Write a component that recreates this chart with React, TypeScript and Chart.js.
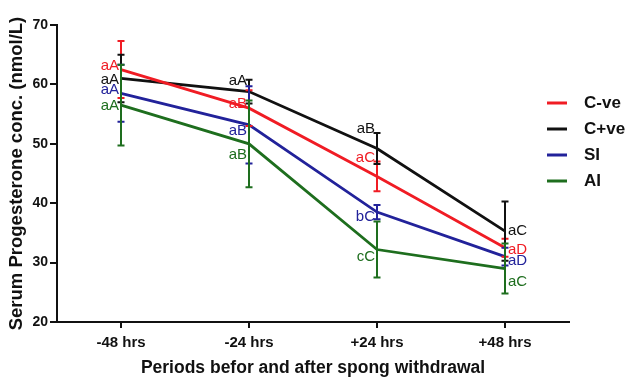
import React, { useEffect, useRef } from "react";
import { Chart, registerables } from "chart.js";

Chart.register(...registerables);

const categories = ["-48 hrs", "-24 hrs", "+24 hrs", "+48 hrs"];
const seriesNames = ["C-ve", "C+ve", "SI", "AI"];
const cveValues = [62.5, 56.0, 44.5, 32.5];
const cpveValues = [61.0, 58.8, 49.2, 35.3];
const siValues = [58.5, 53.2, 38.5, 31.0];
const aiValues = [56.5, 50.0, 32.2, 29.0];
const cveErr = [4.8, 3.0, 2.5, 1.5];
const cpveErr = [4.0, 2.0, 2.6, 5.0];
const siErr = [4.8, 6.5, 1.2, 1.5];
const aiErr = [6.8, 7.3, 4.7, 4.2];
const cveLabels = ["aA", "aB", "aC", "aD"];
const cpveLabels = ["aA", "aA", "aB", "aC"];
const siLabels = ["aA", "aB", "bC", "aD"];
const aiLabels = ["aA", "aB", "cC", "aC"];
const yTicks = [20, 30, 40, 50, 60, 70];

const colors = ["#f01c24", "#111111", "#22229a", "#1e6e1e"];
// label pixel offsets (style only)
const labelDy = [
  [-4, -4, -19, 2],
  [1, -11, -20, 0],
  [-3, 6, 5, 4],
  [1, 11, 7, 13],
];

const FONT = "'Liberation Sans', Arial, sans-serif";

export default function App() {
  const ref = useRef<HTMLCanvasElement | null>(null);
  useEffect(() => {
    const values = [cveValues, cpveValues, siValues, aiValues];
    const errs = [cveErr, cpveErr, siErr, aiErr];
    const labels = [cveLabels, cpveLabels, siLabels, aiLabels];

    const errPlugin = {
      id: "errbars",
      afterDatasetsDraw(chart: any) {
        const ctx = chart.ctx;
        const x = chart.scales.x;
        const y = chart.scales.y;
        ctx.save();
        for (let s = 0; s < values.length; s++) {
          ctx.strokeStyle = colors[s];
          ctx.lineWidth = 2;
          for (let i = 0; i < categories.length; i++) {
            const px = x.getPixelForValue(i);
            const top = y.getPixelForValue(values[s][i] + errs[s][i]);
            const bot = y.getPixelForValue(values[s][i] - errs[s][i]);
            ctx.beginPath();
            ctx.moveTo(px, top);
            ctx.lineTo(px, bot);
            ctx.moveTo(px - 3.5, top);
            ctx.lineTo(px + 3.5, top);
            ctx.moveTo(px - 3.5, bot);
            ctx.lineTo(px + 3.5, bot);
            ctx.stroke();
          }
        }
        // letter labels
        ctx.font = `15px ${FONT}`;
        ctx.textBaseline = "middle";
        for (let s = 0; s < values.length; s++) {
          ctx.fillStyle = colors[s];
          for (let i = 0; i < categories.length; i++) {
            const px = x.getPixelForValue(i);
            const py = y.getPixelForValue(values[s][i]) + labelDy[s][i];
            if (i === categories.length - 1) {
              ctx.textAlign = "left";
              ctx.fillText(labels[s][i], px + 3, py);
            } else {
              ctx.textAlign = "right";
              ctx.fillText(labels[s][i], px - 2, py);
            }
          }
        }
        // legend
        ctx.font = `bold 17px ${FONT}`;
        ctx.textAlign = "left";
        for (let s = 0; s < seriesNames.length; s++) {
          const ly = 103 + s * 26;
          ctx.strokeStyle = colors[s];
          ctx.lineWidth = 3;
          ctx.beginPath();
          ctx.moveTo(547, ly);
          ctx.lineTo(567, ly);
          ctx.stroke();
          ctx.fillStyle = "#111";
          ctx.fillText(seriesNames[s], 584, ly);
        }
        ctx.restore();
      },
    };

    const chart = new Chart(ref.current as HTMLCanvasElement, {
      type: "line",
      data: {
        labels: categories,
        datasets: values.map((v, s) => ({
          label: seriesNames[s],
          data: v,
          borderColor: colors[s],
          backgroundColor: colors[s],
          borderWidth: 2.8,
          pointRadius: 0,
          tension: 0,
        })),
      },
      options: {
        animation: false,
        responsive: false,
        maintainAspectRatio: false,
        layout: { padding: { top: 25, right: 58, left: 0, bottom: 0 } },
        plugins: { legend: { display: false }, tooltip: { enabled: false } },
        scales: {
          x: {
            type: "category",
            offset: true,
            grid: {
              display: true,
              drawOnChartArea: false,
              drawTicks: true,
              tickLength: 6,
              color: "#111",
              lineWidth: 2,
              offset: false,
            },
            border: { display: true, color: "#111", width: 2 },
            ticks: {
              color: "#111",
              font: { family: FONT, size: 15, weight: "bold" },
              padding: 6,
              maxRotation: 0,
            },
            title: {
              display: true,
              text: "Periods befor and after spong withdrawal",
              color: "#111",
              font: { family: FONT, size: 17.5, weight: "bold" },
              padding: { top: 2, bottom: 0 },
            },
            afterFit: (s: any) => {
              s.height = 57;
            },
          },
          y: {
            min: 20,
            max: 70,
            afterBuildTicks: (s: any) => {
              s.ticks = yTicks.map((v) => ({ value: v }));
            },
            grid: {
              display: true,
              drawOnChartArea: false,
              drawTicks: true,
              tickLength: 7,
              color: "#111",
              lineWidth: 2,
            },
            border: { display: true, color: "#111", width: 2 },
            ticks: {
              color: "#111",
              font: { family: FONT, size: 14, weight: "bold" },
              padding: 2,
            },
            title: {
              display: true,
              text: "Serum Progesterone conc. (nmol/L)",
              color: "#111",
              font: { family: FONT, size: 18.5, weight: "bold" },
              padding: { top: 6, bottom: 0 },
            },
            afterFit: (s: any) => {
              s.width = 57;
            },
          },
        },
      },
      plugins: [errPlugin],
    });
    return () => chart.destroy();
  }, []);
  return (
    <div style={{ position: "fixed", left: 0, top: 0, width: 627, height: 379, background: "#fff" }}>
      <canvas ref={ref} width={627} height={379} style={{ width: 627, height: 379, display: "block" }} />
    </div>
  );
}
